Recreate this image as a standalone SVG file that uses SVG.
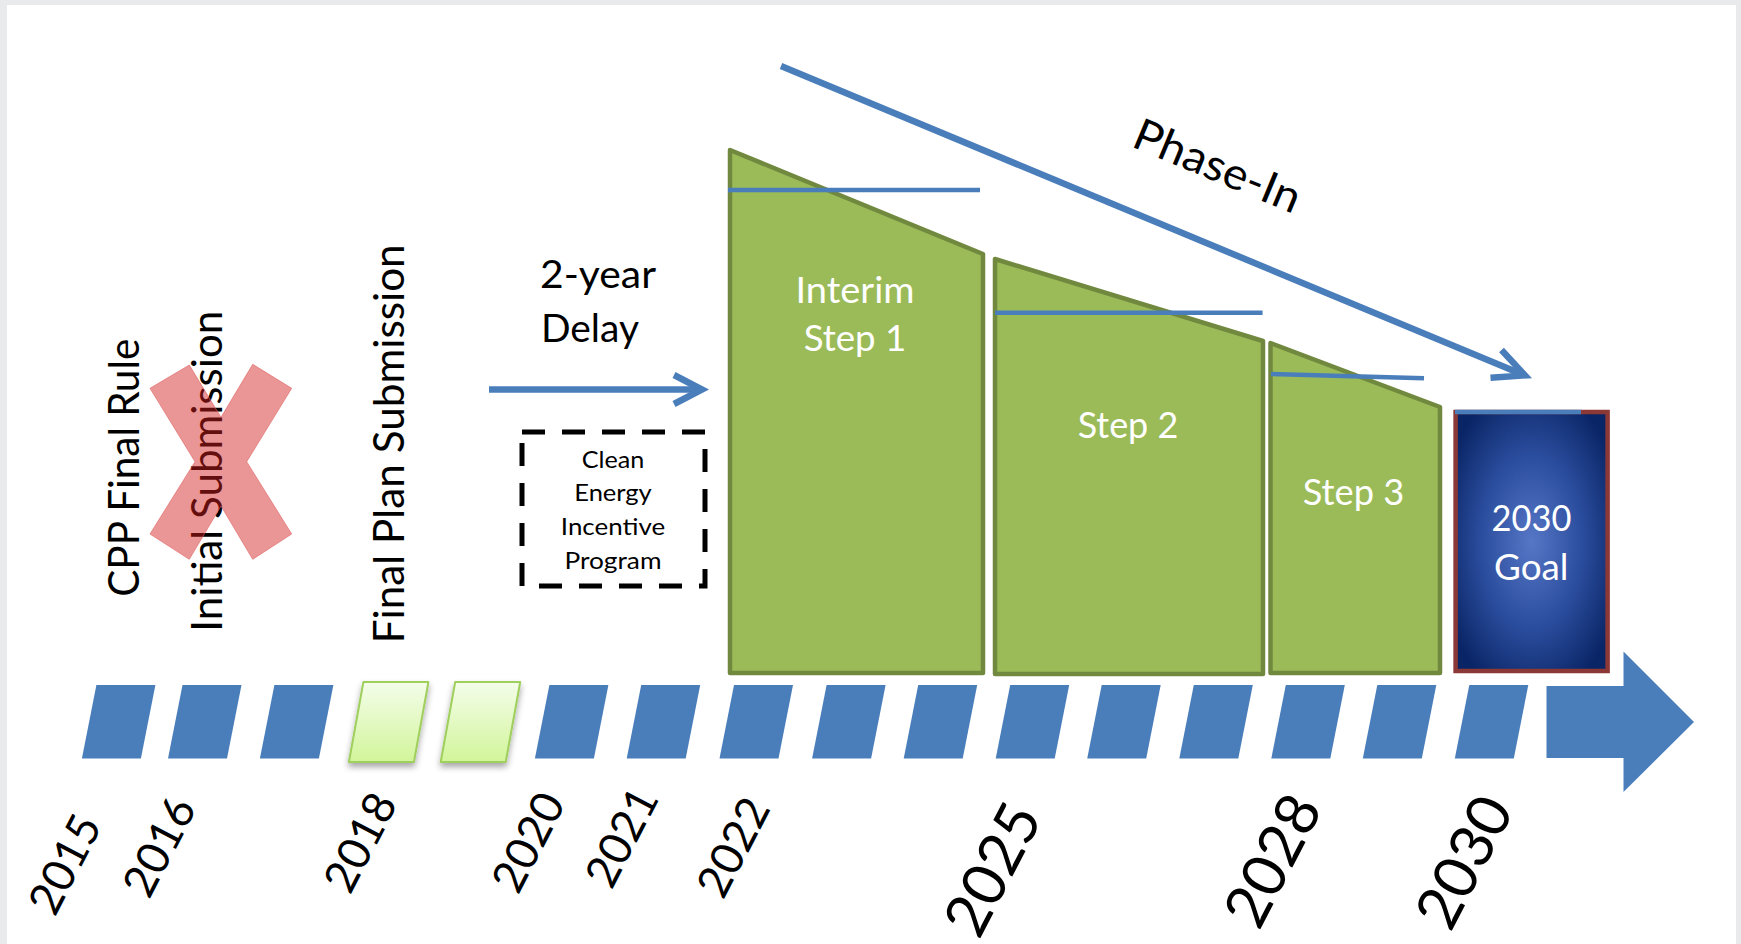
<svg xmlns="http://www.w3.org/2000/svg" width="1741" height="944" viewBox="0 0 1741 944">
  <style>
    .lbl { font-family: Lato, "Liberation Sans", sans-serif; fill: #000; }
    .vt { font-size: 43px; }
    .wt { font-family: Lato, "Liberation Sans", sans-serif; font-size: 36px; fill: #fff; text-anchor: middle; }
    .box { font-family: Lato, "Liberation Sans", sans-serif; font-size: 24px; fill: #000; text-anchor: middle; }
    .yr { font-family: Lato, "Liberation Sans", sans-serif; fill: #000; text-anchor: middle; }
    .yr-s { font-size: 45px; }
    .yr-l { font-size: 60px; }
    .step { fill: #9bbb59; stroke: #71893f; stroke-width: 4.5; stroke-linejoin: round; }
    .tick { fill: #4a7ebb; }
    .tick-g { fill: url(#gTick); stroke: #9fcf5c; stroke-width: 2; stroke-linejoin: round; filter: url(#shadow); }
    .level { stroke: #4a7ebb; stroke-width: 4.5; fill: none; }
    .conn { stroke: #4a7ebb; stroke-width: 6.5; fill: none; stroke-linecap: butt; stroke-linejoin: miter; }
  </style>
  <defs>
    <linearGradient id="gTick" x1="0" y1="0" x2="0" y2="1">
      <stop offset="0" stop-color="#f4fdea"/>
      <stop offset="1" stop-color="#d2f59a"/>
    </linearGradient>
    <radialGradient id="gGoal" cx="0.5" cy="0.5" r="0.62">
      <stop offset="0" stop-color="#5677c6"/>
      <stop offset="0.55" stop-color="#2a4c9c"/>
      <stop offset="1" stop-color="#0a2566"/>
    </radialGradient>
    <filter id="shadow" x="-20%" y="-20%" width="140%" height="150%">
      <feDropShadow dx="0" dy="4" stdDeviation="3" flood-color="#000" flood-opacity="0.35"/>
    </filter>
  </defs>

  <!-- page -->
  <rect x="0" y="0" width="1741" height="944" fill="#e9eaec"/>
  <rect x="7" y="5" width="1729" height="939" fill="#fff"/>

  <!-- timeline -->
  <g id="timeline">
    <path class="tick" d="M96.4,685 h59 l-14.5,73.5 h-59 z"/>
    <path class="tick" d="M182.5,685 h59 l-14.5,73.5 h-59 z"/>
    <path class="tick" d="M274.4,685 h59 l-14.5,73.5 h-59 z"/>
    <path class="tick-g" d="M363.4,682 h65 l-14.5,80 h-65 z"/>
    <path class="tick-g" d="M455.2,682 h65 l-14.5,80 h-65 z"/>
    <path class="tick" d="M549.4,685 h59 l-14.5,73.5 h-59 z"/>
    <path class="tick" d="M641.2,685 h59 l-14.5,73.5 h-59 z"/>
    <path class="tick" d="M734,685 h59 l-14.5,73.5 h-59 z"/>
    <path class="tick" d="M826.6,685 h59 l-14.5,73.5 h-59 z"/>
    <path class="tick" d="M918.2,685 h59 l-14.5,73.5 h-59 z"/>
    <path class="tick" d="M1010.2,685 h59 l-14.5,73.5 h-59 z"/>
    <path class="tick" d="M1101.7,685 h59 l-14.5,73.5 h-59 z"/>
    <path class="tick" d="M1193.8,685 h59 l-14.5,73.5 h-59 z"/>
    <path class="tick" d="M1285.8,685 h59 l-14.5,73.5 h-59 z"/>
    <path class="tick" d="M1377.3,685 h59 l-14.5,73.5 h-59 z"/>
    <path class="tick" d="M1469.3,685 h59 l-14.5,73.5 h-59 z"/>
    <path class="tick" d="M1546.5,686 H1623.5 V651.5 L1694,722 L1623.5,792 V758 H1546.5 z"/>
  </g>

  <!-- year labels -->
  <g id="years">
    <text class="yr yr-s" transform="translate(64.6,864) rotate(-62.5)" y="16">2015</text>
    <text class="yr yr-s" transform="translate(159,846.5) rotate(-62.5)" y="16">2016</text>
    <text class="yr yr-s" transform="translate(360,842) rotate(-62.5)" y="16">2018</text>
    <text class="yr yr-s" transform="translate(528,842) rotate(-62.5)" y="16">2020</text>
    <text class="yr yr-s" transform="translate(621.4,837) rotate(-62.5)" y="16">2021</text>
    <text class="yr yr-s" transform="translate(733,847) rotate(-62.5)" y="16">2022</text>
    <text class="yr yr-l" transform="translate(992,869) rotate(-62.5)" y="21.5">2025</text>
    <text class="yr yr-l" transform="translate(1272,860) rotate(-62.5)" y="21.5">2028</text>
    <text class="yr yr-l" transform="translate(1463.5,861.7) rotate(-62.5)" y="21.5">2030</text>
  </g>

  <!-- milestones -->
  <g id="cpp-final-rule">
    <text class="lbl vt" transform="translate(138.8,596.7) rotate(-90)" textLength="258" lengthAdjust="spacingAndGlyphs">CPP Final Rule</text>
  </g>
  <g id="initial-submission">
    <text class="lbl vt" transform="translate(222.4,631.7) rotate(-90)" textLength="321" lengthAdjust="spacingAndGlyphs">Initial Submission</text>
    <!-- cancelled -->
    <polygon points="189.3,365 221,417.3 252.7,364.3 291.7,388.3 246.7,461.7 291.7,534 252.7,559.3 221,506 189.3,559.3 150,534 195,461.7 150,388.3" fill="#d42020" fill-opacity="0.47" stroke="#e06060" stroke-opacity="0.6" stroke-width="1"/>
  </g>
  <g id="final-plan-submission">
    <text class="lbl vt" transform="translate(404.2,643.3) rotate(-90)" textLength="399" lengthAdjust="spacingAndGlyphs">Final Plan Submission</text>
  </g>

  <g id="delay-label">
    <text class="lbl" x="540" y="288.3" font-size="38" textLength="116" lengthAdjust="spacingAndGlyphs">2-year</text>
    <text class="lbl" x="541" y="341.7" font-size="38" textLength="98" lengthAdjust="spacingAndGlyphs">Delay</text>
  </g>

  <g id="clean-energy-incentive-program">
    <rect x="522" y="432" width="183" height="154" fill="none" stroke="#000" stroke-width="5" stroke-dasharray="23 17"/>
    <text class="box" x="613" y="467.7" textLength="62.6" lengthAdjust="spacingAndGlyphs">Clean</text>
    <text class="box" x="613" y="501" textLength="77.5" lengthAdjust="spacingAndGlyphs">Energy</text>
    <text class="box" x="613" y="535" textLength="104.3" lengthAdjust="spacingAndGlyphs">Incentive</text>
    <text class="box" x="613" y="568.5" textLength="97" lengthAdjust="spacingAndGlyphs">Program</text>
  </g>

  <!-- compliance steps -->
  <g id="interim-step-1">
    <polygon class="step" points="730,150 983,254 983,673 730,673"/>
    <text class="wt" x="855" y="302.8" textLength="119" lengthAdjust="spacingAndGlyphs">Interim</text>
    <text class="wt" x="855" y="350.7" textLength="102.7" lengthAdjust="spacingAndGlyphs">Step 1</text>
  </g>
  <g id="step-2">
    <polygon class="step" points="995,259 1263,341 1263,674 995,674"/>
    <text class="wt" x="1128" y="437.5" textLength="100.7" lengthAdjust="spacingAndGlyphs">Step 2</text>
  </g>
  <g id="step-3">
    <polygon class="step" points="1270.5,343 1440,407 1440,673 1270.5,673"/>
    <text class="wt" x="1353.5" y="505" textLength="101.5" lengthAdjust="spacingAndGlyphs">Step 3</text>
  </g>
  <g id="goal-2030">
    <rect x="1455.6" y="412" width="152" height="259" fill="url(#gGoal)" stroke="#8c3836" stroke-width="4.5"/>
    <text class="wt" x="1531.6" y="531" textLength="80" lengthAdjust="spacingAndGlyphs">2030</text>
    <text class="wt" x="1531.3" y="580" textLength="74.5" lengthAdjust="spacingAndGlyphs">Goal</text>
  </g>

  <!-- target levels -->
  <g id="levels">
    <line class="level" x1="728" y1="190" x2="980" y2="190"/>
    <line class="level" x1="995" y1="312.8" x2="1262.6" y2="312.8"/>
    <line class="level" x1="1271" y1="374" x2="1424" y2="378.3"/>
    <line class="level" x1="1455" y1="412" x2="1581" y2="412"/>
  </g>

  <!-- connectors -->
  <g id="connectors">
    <line class="conn" x1="489" y1="389.5" x2="700" y2="389.5"/>
    <polyline class="conn" points="674,375 702,389.5 674,404" stroke-linecap="round"/>
    <line class="conn" x1="781" y1="66" x2="1522" y2="374.3"/>
    <polyline class="conn" points="1501.5,350 1525,375.4 1490.5,377.7" stroke-linecap="round"/>
    <text class="lbl" transform="translate(1130,146) rotate(22.6)" font-size="44" textLength="177" lengthAdjust="spacingAndGlyphs">Phase-In</text>
  </g>
</svg>
